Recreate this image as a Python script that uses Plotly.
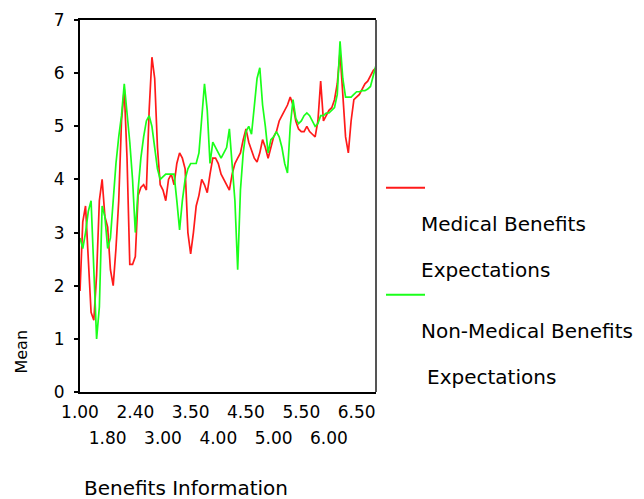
import plotly.graph_objects as go

# ---- data -------------------------------------------------------------
# category positions (108 ordered "Benefits Information" levels)
category_index = list(range(108))

tick_pos_row1 = [0, 20, 40, 60, 80, 100]
tick_text_row1 = ["1.00", "2.40", "3.50", "4.50", "5.50", "6.50"]
tick_pos_row2 = [10, 30, 50, 70, 90]
tick_text_row2 = ["1.80", "3.00", "4.00", "5.00", "6.00"]

medical = [
    1.9, 3.2, 3.5, 2.4, 1.5, 1.35, 2.2, 3.6, 4.0, 3.3,
    3.1, 2.3, 2.0, 2.7, 3.6, 5.1, 5.7, 4.4, 2.4, 2.4,
    2.55, 3.7, 3.85, 3.9, 3.8, 5.3, 6.3, 5.9, 4.6, 3.9,
    3.8, 3.6, 4.0, 4.1, 3.9, 4.3, 4.5, 4.4, 4.2, 3.0,
    2.6, 3.0, 3.5, 3.7, 4.0, 3.9, 3.75, 4.1, 4.4, 4.4,
    4.3, 4.1, 4.0, 3.9, 3.8, 4.1, 4.3, 4.4, 4.5, 4.75,
    4.95, 4.7, 4.55, 4.4, 4.33, 4.5, 4.75, 4.6, 4.4, 4.6,
    4.8, 4.9, 5.1, 5.2, 5.3, 5.4, 5.55, 5.4, 5.1, 4.95,
    4.9, 4.9, 5.0, 4.9, 4.85, 4.8, 5.1, 5.85, 5.1, 5.2,
    5.3, 5.35, 5.5, 5.8, 6.4, 5.6, 4.8, 4.5, 5.1, 5.5,
    5.55, 5.6, 5.7, 5.8, 5.85, 5.95, 6.05, 6.1,
]

non_medical = [
    2.9, 2.7, 3.0, 3.4, 3.6, 2.3, 1.0, 1.6, 3.5, 3.3,
    2.7, 2.9, 3.7, 4.3, 4.8, 5.2, 5.8, 5.3, 4.7, 4.0,
    3.0, 3.8, 4.4, 4.8, 5.1, 5.2, 5.0, 4.6, 4.2, 4.0,
    4.05, 4.1, 4.1, 4.1, 4.1, 3.6, 3.05, 3.6, 4.0, 4.2,
    4.3, 4.3, 4.3, 4.5, 5.2, 5.8, 5.3, 4.3, 4.7, 4.6,
    4.5, 4.4, 4.5, 4.6, 4.95, 4.3, 3.6, 2.3, 3.8, 4.5,
    4.9, 5.0, 4.85, 5.37, 5.9, 6.1, 5.4, 5.0, 4.5, 4.75,
    4.8, 4.9, 4.8, 4.6, 4.3, 4.12, 5.0, 5.5, 5.15, 5.05,
    5.1, 5.2, 5.25, 5.2, 5.1, 5.0, 5.05, 5.2, 5.2, 5.25,
    5.25, 5.3, 5.35, 5.6, 6.6, 5.9, 5.55, 5.55, 5.55, 5.6,
    5.65, 5.65, 5.67, 5.67, 5.7, 5.75, 5.95, 6.15,
]

series_names = ["Medical Benefits Expectations", "Non-Medical Benefits Expectations"]
y_ticks = [0, 1, 2, 3, 4, 5, 6, 7]

# ---- layout helpers (pixel -> paper) -----------------------------------
W, H = 644, 499
L, R, T, B = 80, 376, 20, 392.5


def px(x):
    return (x - L) / (R - L)


def py(y):
    return (B - y) / (B - T)


FONT = "DejaVu Sans"
RED = "#ff1a1a"
GREEN = "#1aff1a"

fig = go.Figure()
fig.add_trace(go.Scatter(x=category_index, y=non_medical, mode="lines",
                         line=dict(color=GREEN, width=1.7), name=series_names[1],
                         xaxis="x2", yaxis="y"))
fig.add_trace(go.Scatter(x=category_index, y=medical, mode="lines",
                         line=dict(color=RED, width=1.7), name=series_names[0],
                         xaxis="x", yaxis="y"))

fig.update_layout(
    width=W, height=H,
    margin=dict(l=L, r=W - R, t=T, b=H - B, pad=0),
    paper_bgcolor="white", plot_bgcolor="white",
    showlegend=False,
    font=dict(family=FONT, size=18, color="black"),
    xaxis=dict(
        range=[0, 107], showgrid=False, zeroline=False,
        tickmode="array", tickvals=tick_pos_row1, ticktext=tick_text_row1,
        ticks="", showline=True, linecolor="black", linewidth=2, mirror=True,
        tickfont=dict(family=FONT, size=17), ticklabelstandoff=4,
        automargin=False,
    ),
    xaxis2=dict(
        range=[0, 107], overlaying="x", matches="x", side="bottom",
        showgrid=False, zeroline=False, showline=False,
        tickmode="array", tickvals=tick_pos_row2, ticktext=tick_text_row2,
        ticks="", tickfont=dict(family=FONT, size=17), ticklabelstandoff=34,
        automargin=False,
    ),
    yaxis=dict(
        range=[0, 7], showgrid=False, zeroline=False,
        tickmode="array", tickvals=y_ticks,
        ticks="outside", ticklen=4, tickwidth=2, tickcolor="black",
        showline=True, linecolor="black", linewidth=2, mirror=False,
        tickfont=dict(family=FONT, size=17), ticklabelstandoff=6,
        automargin=False,
    ),
    shapes=[
        dict(type="line", xref="paper", yref="paper", x0=1, x1=1, y0=0, y1=1,
             line=dict(color="#555555", width=2)),
        dict(type="line", xref="paper", yref="paper", x0=px(386), x1=px(425),
             y0=py(188), y1=py(188), line=dict(color=RED, width=2)),
        dict(type="line", xref="paper", yref="paper", x0=px(386), x1=px(425),
             y0=py(295), y1=py(295), line=dict(color=GREEN, width=2)),
    ],
)

ann = []


def add_text(text, x, y, xanchor="left", size=20, angle=0):
    ann.append(dict(text=text, x=px(x), y=py(y), xref="paper", yref="paper",
                    xanchor=xanchor, yanchor="middle", showarrow=False,
                    textangle=angle, font=dict(family=FONT, size=size, color="black")))


add_text("Medical Benefits", 419, 224)
add_text("Expectations", 419, 270)
add_text("Non-Medical Benefits", 419, 331)
add_text("Expectations", 425, 377)
add_text("Benefits Information", 186, 489, xanchor="center")
add_text("Mean", 22, 352, xanchor="center", size=16, angle=-90)
fig.update_layout(annotations=ann)

fig.write_html("out.html",
               config={"displayModeBar": False},
               post_script="document.body.style.margin='0';document.body.style.padding='0';")
